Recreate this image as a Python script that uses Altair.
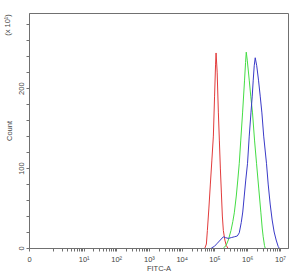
import altair as alt
import pandas as pd

# FITC-A intensity values and event counts (x10)
red_x = [51100, 56700, 60800, 67600, 75000, 83400, 92600, 100700, 108000, 111900,
         120800, 131400, 140900, 151100, 162100, 173900, 186500, 207100, 230000, 255500]
red_y = [0, 5, 22, 50, 80, 110, 140, 190, 230, 244,
         220, 170, 135, 100, 70, 40, 22, 10, 3, 0]

green_x = [186500, 225200, 264600, 319600, 362500, 402600, 463200, 514300, 571200, 634400,
           719600, 827700, 887700, 932400, 1000000, 1150000, 1278000, 1449000, 1667000,
           1918000, 2236000, 2609000, 2857000, 3064000, 3356000, 3525000]
green_y = [0, 3, 10, 22, 33, 44, 65, 85, 106, 135,
           169, 210, 232, 245, 235, 210, 190, 169, 135,
           106, 75, 44, 25, 14, 3, 0]

blue_x = [80500, 99300, 122500, 151100, 186500, 214500, 264600, 326400, 402600, 496600,
          571200, 657000, 729700, 810500, 900200, 1021000, 1150000, 1296000, 1419000,
          1522000, 1633000, 1751000, 1945000, 2206000, 2484000, 2798000, 3174000, 3861000,
          4347000, 5002000, 5754000, 6618000, 7610000, 8756000, 9389000]
blue_y = [0, 2, 6, 10, 14, 13, 12, 13, 14, 15,
          19, 32, 45, 65, 85, 106, 140, 169, 190,
          210, 228, 238, 228, 210, 190, 169, 140, 106,
          80, 55, 35, 20, 10, 2, 0]

series_names = ["red", "green", "blue"]
series_colors = ["#e23b3b", "#44dd44", "#3a3ac8"]

x_major = [0, 10, 100, 1000, 10000, 100000, 1000000, 10000000]
x_major_labels = ["0", "10¹", "10²", "10³", "10⁴", "10⁵", "10⁶", "10⁷"]
y_ticks = list(range(0, 300, 20))
y_labeled = [0, 100, 200]
y_multiplier = "(x 10¹)"

rows = []
for name, xs, ys in zip(series_names, [red_x, green_x, blue_x], [red_y, green_y, blue_y]):
    for i, (xv, yv) in enumerate(zip(xs, ys)):
        rows.append({"series": name, "fitc": xv, "count": yv, "order": i})
df = pd.DataFrame(rows)

x_tick_values = [0]
for d in range(0, 7):
    for k in range(1, 10):
        x_tick_values.append(k * 10 ** d)
x_tick_values.append(10 ** 7)

label_expr = ""
for v, lab in zip(x_major, x_major_labels):
    label_expr += f"datum.value == {v} ? '{lab}' : "
label_expr += "''"

y_label_expr = " || ".join(f"datum.value == {v}" for v in y_labeled)
y_label_expr = f"({y_label_expr}) ? datum.label : ''"

font = "'Liberation Sans Narrow', 'Liberation Sans', sans-serif"
fs = 7.5
axis_color = "#707070"
text_color = "#444444"

lines = alt.Chart(df).mark_line(strokeWidth=1, interpolate="linear").encode(
    x=alt.X("fitc:Q",
            scale=alt.Scale(type="symlog", constant=0.22, domain=[0, 17500000], nice=False),
            axis=alt.Axis(values=x_tick_values, labelExpr=label_expr, title="FITC-A",
                          grid=False, tickSize=3, labelPadding=4, titlePadding=2,
                          labelFontSize=fs, titleFontSize=fs, titleFontWeight="normal",
                          labelFont=font, titleFont=font, labelColor=text_color,
                          titleColor=text_color, domainColor=axis_color, tickColor=axis_color,
                          labelOverlap=False, labelFlush=False)),
    y=alt.Y("count:Q",
            scale=alt.Scale(domain=[0, 294], nice=False),
            axis=alt.Axis(values=y_ticks, labelExpr=y_label_expr, title="Count",
                          grid=False, tickSize=3, labelAngle=270, labelAlign="center",
                          labelBaseline="bottom", labelPadding=1, titlePadding=4,
                          labelFontSize=fs, titleFontSize=fs, titleFontWeight="normal",
                          labelFont=font, titleFont=font, labelColor=text_color,
                          titleColor=text_color, domainColor=axis_color, tickColor=axis_color,
                          labelOverlap=False)),
    color=alt.Color("series:N", scale=alt.Scale(domain=series_names, range=series_colors),
                    legend=None),
    order="order:Q",
)

mult = alt.Chart(pd.DataFrame({"t": [y_multiplier]})).mark_text(
    angle=270, align="center", baseline="middle", fontSize=fs, font=font, color=text_color
).encode(text="t:N", x=alt.value(-21), y=alt.value(12))

chart = alt.layer(lines, mult).properties(
    width=259,
    height=235,
    autosize=alt.AutoSizeParams(type="none"),
    padding={"left": 29, "top": 13, "right": 4, "bottom": 27},
).configure_view(stroke=axis_color, strokeWidth=1)

chart.save("out.html", embed_options={"renderer": "svg", "actions": False})
